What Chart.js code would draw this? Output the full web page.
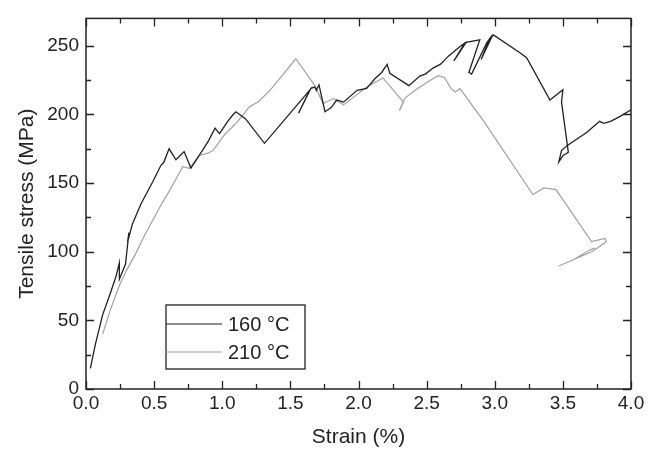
<!DOCTYPE html>
<html>
<head>
<meta charset="utf-8">
<script src="https://cdn.jsdelivr.net/npm/chart.js@4"></script>
<style>
  html, body { margin: 0; padding: 0; background: #fff; }
</style>
</head>
<body>
<canvas id="chart" width="657" height="451"></canvas>
<script>
// values (strain in %, stress in MPa)
const strain160 = [0.032, 0.07, 0.122, 0.183, 0.22, 0.245, 0.245, 0.29, 0.315, 0.305, 0.34, 0.404, 0.49, 0.55, 0.57, 0.61, 0.66, 0.72, 0.77, 0.856, 0.90, 0.947, 0.98, 1.04, 1.08, 1.10, 1.17, 1.31, 1.644, 1.56, 1.65, 1.68, 1.69, 1.71, 1.754, 1.80, 1.84, 1.89, 1.99, 2.06, 2.12, 2.17, 2.21, 2.23, 2.37, 2.45, 2.49, 2.55, 2.60, 2.66, 2.745, 2.78, 2.70, 2.79, 2.89, 2.81, 2.83, 2.94, 2.965, 2.90, 2.98, 2.99, 3.185, 3.234, 3.405, 3.50, 3.49, 3.54, 3.50, 3.47, 3.49, 3.53, 3.674, 3.77, 3.80, 3.85, 3.92, 4.0];
const stress160 = [15, 33, 54, 71, 82, 92, 80, 91, 114, 107, 120, 135, 151, 163, 165, 175, 167, 173, 161, 174, 181, 190, 186, 195, 200, 202, 197, 179, 218, 201, 219, 220, 217.6, 221.6, 202, 205, 210.5, 209, 217.6, 219, 226, 230.6, 236.5, 230, 221, 228, 229.4, 234, 236.5, 242.5, 249.6, 252, 239, 252.5, 254.3, 230.6, 229.4, 252, 255.5, 240, 256.8, 258, 245, 241.3, 210.5, 218, 209, 172.5, 170, 165.4, 173.7, 177.3, 186.8, 195, 193.5, 195, 198.6, 203.4];

const strain210 = [0.122, 0.18, 0.245, 0.30, 0.367, 0.43, 0.49, 0.55, 0.61, 0.66, 0.71, 0.758, 0.83, 0.90, 0.934, 1.02, 1.106, 1.20, 1.265, 1.35, 1.42, 1.54, 1.68, 1.74, 1.815, 1.89, 2.06, 2.18, 2.33, 2.30, 2.34, 2.43, 2.525, 2.585, 2.63, 2.68, 2.71, 2.745, 2.92, 3.28, 3.36, 3.45, 3.71, 3.81, 3.82, 3.72, 3.47, 3.58, 3.70, 3.735];
const stress210 = [40, 58, 75.4, 87, 99, 112, 123, 134, 144, 153, 162, 160.7, 170, 172, 174, 185.6, 194, 205.7, 209.3, 217.6, 226, 240.6, 221, 208, 211.6, 207, 220, 226.6, 209, 203, 212, 218.8, 224.7, 228.3, 227, 218.8, 216.4, 218.8, 195, 141.7, 146.5, 145.3, 107.4, 109.7, 107.4, 100.3, 89.6, 94.3, 101.4, 102.6];

const seriesNames = ['160 °C', '210 °C'];
const xTicks = [0, 0.5, 1, 1.5, 2, 2.5, 3, 3.5, 4];
const yTicks = [0, 50, 100, 150, 200, 250];

const FONT = '"Liberation Sans", Arial, sans-serif';
const toPoints = (xs, ys) => xs.map((x, i) => ({ x: x, y: ys[i] }));

// frame with inward ticks on all four sides + boxed legend
const framePlugin = {
  id: 'frame',
  afterDraw(chart) {
    const { ctx, chartArea: a, scales } = chart;
    ctx.save();
    ctx.strokeStyle = '#222';
    ctx.lineWidth = 1.5;
    ctx.strokeRect(a.left, a.top, a.right - a.left, a.bottom - a.top);

    ctx.lineWidth = 1.3;
    ctx.beginPath();
    for (let v = 0; v <= 4.0001; v += 0.25) {
      const px = Math.round(scales.x.getPixelForValue(v)) + 0.5;
      const len = Math.abs(v * 2 - Math.round(v * 2)) < 1e-6 ? 8 : 5;
      ctx.moveTo(px, a.bottom); ctx.lineTo(px, a.bottom - len);
      ctx.moveTo(px, a.top); ctx.lineTo(px, a.top + len);
    }
    for (let v = 0; v <= 270; v += 25) {
      const py = Math.round(scales.y.getPixelForValue(v)) + 0.5;
      const len = v % 50 === 0 ? 8 : 5;
      ctx.moveTo(a.left, py); ctx.lineTo(a.left + len, py);
      ctx.moveTo(a.right, py); ctx.lineTo(a.right - len, py);
    }
    ctx.stroke();

    // legend box
    const bx = 166, by = 305, bw = 139, bh = 64;
    ctx.lineWidth = 1.3;
    ctx.strokeRect(bx, by, bw, bh);
    ctx.font = '20px ' + FONT;
    ctx.textBaseline = 'middle';
    ctx.fillStyle = '#222';
    chart.data.datasets.forEach((ds, i) => {
      const ly = by + 19 + i * 28;
      ctx.strokeStyle = ds.borderColor;
      ctx.lineWidth = 1.2;
      ctx.beginPath();
      ctx.moveTo(bx, ly); ctx.lineTo(bx + 56, ly);
      ctx.stroke();
      ctx.fillText(ds.label, bx + 62, ly + 1);
    });
    ctx.restore();
  }
};

const ctx = document.getElementById('chart').getContext('2d');

new Chart(ctx, {
  type: 'line',
  data: {
    datasets: [{
      label: seriesNames[0],
      data: toPoints(strain160, stress160),
      borderColor: '#202020',
      borderWidth: 1.3,
      pointRadius: 0,
      tension: 0,
      fill: false
    }, {
      label: seriesNames[1],
      data: toPoints(strain210, stress210),
      borderColor: '#a0a0a0',
      borderWidth: 1.2,
      pointRadius: 0,
      tension: 0,
      fill: false
    }]
  },
  options: {
    responsive: false,
    animation: false,
    parsing: false,
    layout: { padding: { left: 0, top: 9, right: 26, bottom: 0 } },
    scales: {
      x: {
        type: 'linear',
        min: 0,
        max: 4,
        afterBuildTicks: (s) => { s.ticks = xTicks.map(v => ({ value: v })); },
        afterFit: (s) => { s.height = 62; },
        grid: { display: false, drawTicks: false },
        border: { display: false },
        ticks: {
          padding: 3,
          color: '#222',
          font: { family: FONT, size: 19 },
          callback: (v) => Number(v).toFixed(1),
          maxRotation: 0
        },
        title: {
          display: true,
          text: 'Strain (%)',
          color: '#222',
          font: { family: FONT, size: 21 },
          padding: { top: 0, bottom: 1 }
        }
      },
      y: {
        type: 'linear',
        min: 0,
        max: 270,
        afterBuildTicks: (s) => { s.ticks = yTicks.map(v => ({ value: v })); },
        afterFit: (s) => { s.width = 86; },
        grid: { display: false, drawTicks: false },
        border: { display: false },
        ticks: {
          padding: 7,
          color: '#222',
          font: { family: FONT, size: 19 }
        },
        title: {
          display: true,
          text: 'Tensile stress (MPa)',
          color: '#222',
          font: { family: FONT, size: 21 },
          padding: { top: 15, bottom: 0 }
        }
      }
    },
    plugins: {
      legend: { display: false },
      tooltip: { enabled: false }
    }
  },
  plugins: [framePlugin]
});
</script>
</body>
</html>
